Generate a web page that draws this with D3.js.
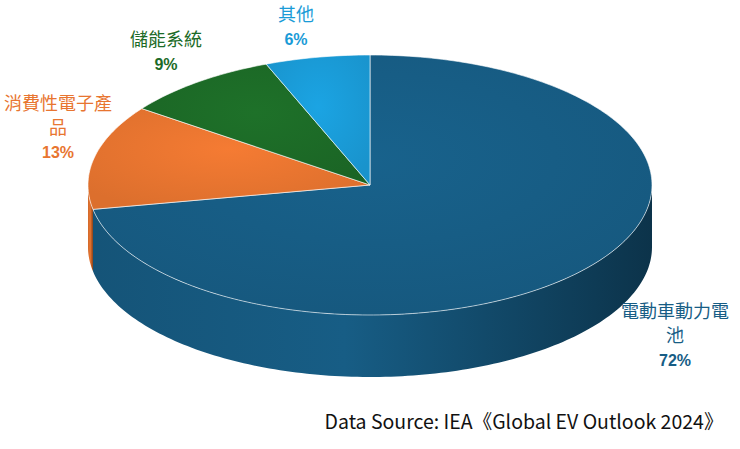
<!DOCTYPE html>
<html><head><meta charset="utf-8">
<script src="https://cdn.jsdelivr.net/npm/d3@7"></script>
<style>body{margin:0;background:#fff}</style>
</head><body>
<svg id="chart" width="740" height="449"></svg>
<script>
// data
const categories = ["電動車動力電池", "消費性電子產品", "儲能系統", "其他"];
const values = [72, 13, 9, 6];
const colors = ["#175d85", "#e87530", "#1c6b27", "#1a9bd7"];
const sideColors = ["#0f3f5c", "#a8501f", "#124a1a", "#11709e"];
const source = "Data Source: IEA《Global EV Outlook 2024》";

const svg = d3.select("#chart");
const cx = 370, cy = 185, rx = 282, ry = 130, depth = 62;

const pie = d3.pie().sort(null).value(d => d)(values);
const pt = (a, dy = 0) => [cx + rx * Math.sin(a), cy - ry * Math.cos(a) + dy];

const defs = svg.append("defs");
colors.forEach((c, i) => {
  const g = defs.append("radialGradient").attr("id", "top" + i)
    .attr("cx", "50%").attr("cy", "40%").attr("r", "65%");
  g.append("stop").attr("offset", "0%").attr("stop-color", d3.color(c).brighter(0.15));
  g.append("stop").attr("offset", "100%").attr("stop-color", d3.color(c).darker(0.15));
  const s = defs.append("linearGradient").attr("id", "side" + i);
  s.append("stop").attr("offset", "0%").attr("stop-color", d3.color(c).darker(0.3));
  s.append("stop").attr("offset", "45%").attr("stop-color", c);
  s.append("stop").attr("offset", "100%").attr("stop-color", d3.color(sideColors[i]).darker(0.6));
});

function arcPts(a0, a1, dy) {
  const n = Math.max(2, Math.ceil((a1 - a0) / 0.02));
  return d3.range(n + 1).map(k => pt(a0 + (a1 - a0) * k / n, dy));
}

// side walls (front half: PI/2 .. 3PI/2)
pie.forEach((d, i) => {
  const a0 = Math.max(d.startAngle, Math.PI / 2), a1 = Math.min(d.endAngle, 3 * Math.PI / 2);
  if (a1 <= a0) return;
  const top = arcPts(a0, a1, 0), bot = arcPts(a0, a1, depth).reverse();
  svg.append("path").attr("d", d3.line()(top.concat(bot)) + "Z")
    .attr("fill", `url(#side${i})`);
});

// top faces
pie.forEach((d, i) => {
  const p = [[cx, cy]].concat(arcPts(d.startAngle, d.endAngle, 0));
  svg.append("path").attr("d", d3.line()(p) + "Z")
    .attr("fill", `url(#top${i})`).attr("stroke", "#fff").attr("stroke-width", 0.6);
});

// labels
const labels = [
  {lines: ["電動車動力電", "池"], x: 675, y: 318},
  {lines: ["消費性電子產", "品"], x: 58, y: 110},
  {lines: ["儲能系統"], x: 166, y: 46},
  {lines: ["其他"], x: 296, y: 21}
];
labels.forEach((l, i) => {
  const t = svg.append("text").attr("text-anchor", "middle")
    .attr("font-family", "Noto Sans CJK TC, sans-serif").attr("fill", colors[i]);
  l.lines.forEach((s, k) => t.append("tspan").attr("x", l.x).attr("y", l.y + k * 24)
    .attr("font-size", 18).text(s));
  t.append("tspan").attr("x", l.x).attr("y", l.y + l.lines.length * 24)
    .attr("font-size", 16).attr("font-weight", "bold").attr("font-family", "Liberation Sans, Arial")
    .text(values[i] + "%");
});

svg.append("text").attr("x", 524).attr("y", 429).attr("text-anchor", "middle")
  .attr("font-family", "Noto Sans CJK TC, Roboto, sans-serif").attr("font-size", 19.5)
  .attr("fill", "#111").text(source);
</script>
</body></html>
